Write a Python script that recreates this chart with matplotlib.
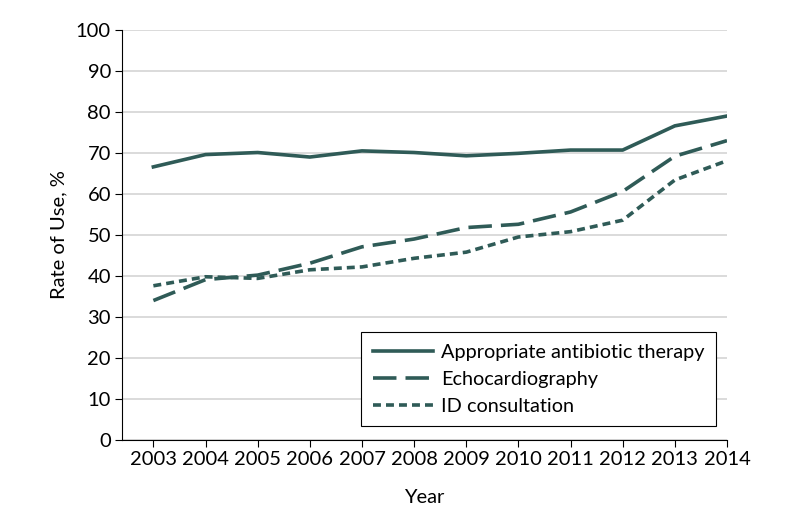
#! /usr/bin/env python3
from matplotlib import pyplot as plt

plt.rcParams["font.family"] = ["Lato", "DejaVu Sans"]

years = list(range(2003, 2015))
antibiotic = [66.6, 69.6, 70.1, 69.0, 70.5, 70.1, 69.3, 69.9, 70.7, 70.7, 76.6, 79.0]
echo = [34.0, 39.1, 40.2, 43.1, 47.1, 49.0, 51.8, 52.6, 55.6, 60.6, 69.2, 73.0]
id_consult = [37.6, 39.8, 39.4, 41.5, 42.2, 44.3, 45.8, 49.5, 50.8, 53.6, 63.4, 68.1]

color = "#2f5b57"
fig = plt.figure(figsize=(7.98, 5.25), dpi=100)
ax = fig.add_axes([0.153, 0.162, 0.758, 0.781])

ax.plot(years, antibiotic, color=color, lw=2.6, label="Appropriate antibiotic therapy")
ax.plot(years, echo, color=color, lw=2.6, dashes=(6.5, 2.5), label="Echocardiography")
ax.plot(years, id_consult, color=color, lw=2.6, dashes=(2.2, 1.4), label="ID consultation")

ax.set_xlim(2002.4, 2014)
ax.set_ylim(0, 100)
ax.set_xticks(years)
ax.set_yticks(range(0, 101, 10))
ax.tick_params(labelsize=14.5, length=5, pad=3, color="black")
ax.yaxis.grid(True, color="#d4d4d4", lw=1.2)
ax.set_axisbelow(True)
for s in ["top", "right"]:
    ax.spines[s].set_visible(False)
ax.set_xlabel("Year", fontsize=14.5, labelpad=15)
ax.set_ylabel("Rate of Use, %", fontsize=14.5, labelpad=6)

leg = ax.legend(loc="lower right", bbox_to_anchor=(0.982, 0.033), fontsize=14.3,
                frameon=True, fancybox=False, edgecolor="black", framealpha=1,
                handlelength=3.0, handletextpad=0.4, borderpad=0.6,
                labelspacing=0.5, borderaxespad=0)
leg.get_frame().set_linewidth(0.8)

plt.savefig("out.png")
